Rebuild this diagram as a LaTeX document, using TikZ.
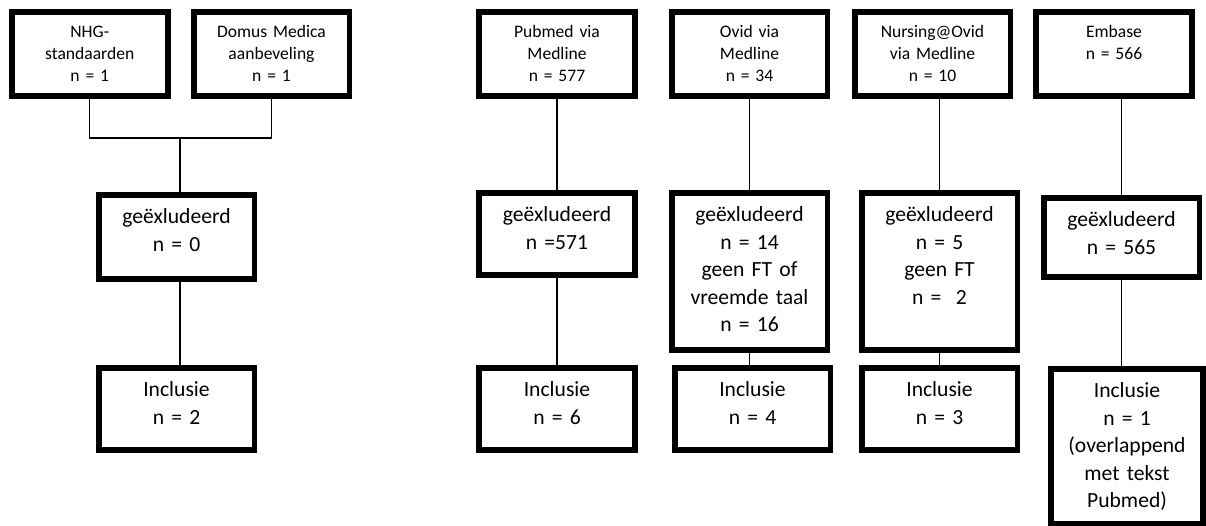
\documentclass[tikz,border=0pt]{standalone}
\usepackage{fontspec}
\setmainfont{Carlito}[WordSpace=0.8]
\usetikzlibrary{positioning}

\begin{document}
\begin{tikzpicture}[
    x=0.02cm, y=-0.02cm, % 1 unit = 1 px of the reference
    % --- styles ---
    % thick black frame, text hanging from the top
    frame box/.style={
        draw=black,
        line width=3.4pt,
        fill=white,
        anchor=north,
        inner sep=0pt,
        align=center,
        text width=3.12cm
    },
    % source boxes (top row, small text)
    src box/.style={
        frame box,
        font=\fontsize{10}{12.5}\selectfont,
        text height=0.52cm,
        text depth=1.16cm
    },
    % result boxes (larger text)
    res box/.style={
        frame box,
        font=\fontsize{12.3}{15.6}\selectfont,
        text height=0.58cm,
        text depth=1.06cm
    },
    tall/.style={text depth=2.57cm},
    % thin connector
    link/.style={draw=black, line width=0.7pt}
]
    \useasboundingbox (0,0) rectangle (1206,525);

    % ====== left group: guidelines ======
    \node[src box] (nhg) at (89.75,9) {NHG-\\standaarden\\n = 1};
    \node[src box] (domus) at (271.5,9) {Domus Medica\\aanbeveling\\n = 1};
    \coordinate (join) at (180,138);

    \node[res box, text depth=1.10cm] (excl a) at (176.5,192) {geëxludeerd\\n = 0};
    \node[res box, text depth=1.07cm] (incl a) at (176.5,365) {Inclusie\\n = 2};

    % ====== Pubmed ======
    \node[src box] (pub top) at (557,9) {Pubmed via\\Medline\\n = 577};
    \node[res box] (pub excl) at (557,190) {geëxludeerd\\n =571};
    \node[res box] (pub incl) at (557,365) {Inclusie\\n = 6};

    % ====== Ovid ======
    \node[src box] (ovid top) at (749.5,9) {Ovid via\\Medline\\n = 34};
    \node[res box, tall] (ovid excl) at (749.5,190) {geëxludeerd\\n = 14\\geen FT of\\vreemde taal\\n = 16};
    \node[res box] (ovid incl) at (752.5,365) {Inclusie\\n = 4};

    % ====== Nursing@Ovid ======
    \node[src box] (nurs top) at (932.5,9) {Nursing@Ovid\\via Medline\\n = 10};
    \node[res box, tall] (nurs excl) at (939.5,190) {geëxludeerd\\n = 5\\geen FT\\n = \ 2};
    \node[res box] (nurs incl) at (939.5,365) {Inclusie\\n = 3};

    % ====== Embase ======
    \node[src box] (emb top) at (1114,9) {Embase\\n = 566};
    \node[res box, text depth=1.01cm] (emb excl) at (1121.5,195) {geëxludeerd\\n = 565};
    \node[res box, text width=3.04cm, text depth=2.52cm] (emb incl) at (1127,366) {Inclusie\\n = 1\\(overlappend\\met tekst\\Pubmed)};

    % ====== connectors ======
    \draw[link] (nhg.south) |- (join) -| (domus.south);
    \draw[link] (join) -- (join |- excl a.north);
    \draw[link] (join |- excl a.south) -- (join |- incl a.north);

    \draw[link] (pub top.south) -- (pub excl.north);
    \draw[link] (pub excl.south) -- (pub incl.north);

    \draw[link] (ovid top.south) -- (ovid excl.north);
    \draw[link] (ovid excl.south) -- (ovid excl.south |- ovid incl.north);

    \draw[link] (nurs excl.north) -- (nurs excl.north |- nurs top.south);
    \draw[link] (nurs excl.south) -- (nurs incl.north);

    \draw[link] (emb excl.north) -- (emb excl.north |- emb top.south);
    \draw[link] (emb excl.south) -- (emb excl.south |- emb incl.north);

\end{tikzpicture}
\end{document}
